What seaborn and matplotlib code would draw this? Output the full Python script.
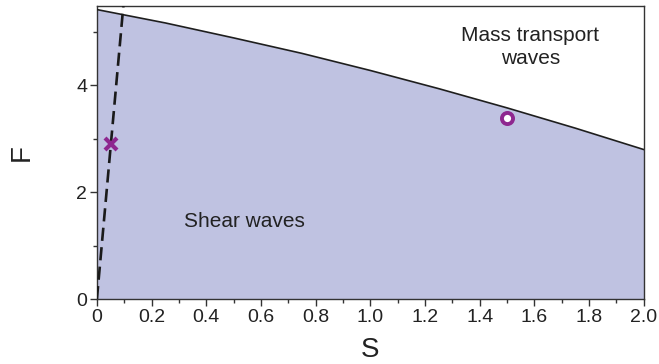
import matplotlib
matplotlib.use("Agg")
import matplotlib.pyplot as plt
import seaborn as sns
import pandas as pd
from matplotlib.ticker import MultipleLocator

# Boundary between shear waves and mass transport waves
s_boundary = [0.0, 0.25, 0.5, 0.75, 1.0, 1.25, 1.5, 1.75, 2.0]
f_boundary = [5.42, 5.17, 4.89, 4.60, 4.28, 3.94, 3.58, 3.20, 2.80]

# Dashed reference line
s_dashed = [0.0, 0.097]
f_dashed = [0.0, 5.5]

# Marked cases
s_cross, f_cross = [0.05], [2.9]
s_ring, f_ring = [1.5], [3.4]

fill_color = "#bfc2e1"
mark_color = "#8e278f"

sns.set_style("ticks")
plt.rcParams["font.family"] = ["Liberation Sans", "DejaVu Sans"]

fig = plt.figure(figsize=(6.59, 3.64), dpi=100)
ax = fig.add_axes([0.147, 0.178, 0.83, 0.806])

boundary = pd.DataFrame({"S": s_boundary, "F": f_boundary})
dashed = pd.DataFrame({"S": s_dashed, "F": f_dashed})

ax.fill_between(boundary["S"], 0, boundary["F"], color=fill_color, lw=0, zorder=1)
sns.lineplot(data=boundary, x="S", y="F", ax=ax, color="#1e1e1e", lw=1.2, zorder=3)
sns.lineplot(data=dashed, x="S", y="F", ax=ax, color="#1a1a1a", lw=1.9,
             dashes=False, zorder=4).lines[-1].set_dashes((5, 2.4))

ax.plot(s_cross, f_cross, marker="x", ls="none", ms=9, mew=3,
        color=mark_color, zorder=5)
ax.plot(s_ring, f_ring, marker="o", ls="none", ms=8, mew=2.8,
        mec=mark_color, mfc="white", zorder=5)

ax.text(0.54, 1.46, "Shear waves", fontsize=15, ha="center", va="center",
        color="#222222")
ax.text(1.585, 4.72, "Mass transport\nwaves", fontsize=15, ha="center",
        va="center", color="#222222", linespacing=1.3)

ax.set_xlim(0, 2.0)
ax.set_ylim(0, 5.49)
ax.xaxis.set_major_locator(MultipleLocator(0.2))
ax.xaxis.set_minor_locator(MultipleLocator(0.1))
ax.yaxis.set_major_locator(MultipleLocator(2))
ax.yaxis.set_minor_locator(MultipleLocator(1))
ax.set_xticks([0, 0.2, 0.4, 0.6, 0.8, 1.0, 1.2, 1.4, 1.6, 1.8, 2.0])
ax.set_xticklabels(["0", "0.2", "0.4", "0.6", "0.8", "1.0", "1.2", "1.4",
                    "1.6", "1.8", "2.0"])
ax.tick_params(which="major", length=5, width=1, labelsize=14,
               colors="#333333", labelcolor="#222222", pad=2)
ax.tick_params(which="minor", length=3, width=1, colors="#333333")

for sp in ax.spines.values():
    sp.set_visible(True)
    sp.set_color("#333333")
    sp.set_linewidth(1.0)

ax.set_xlabel("S", fontsize=20, color="#222222", labelpad=8)
ax.set_ylabel("F", fontsize=20, color="#222222", labelpad=30, rotation=90)

fig.savefig("out.png", dpi=100)
